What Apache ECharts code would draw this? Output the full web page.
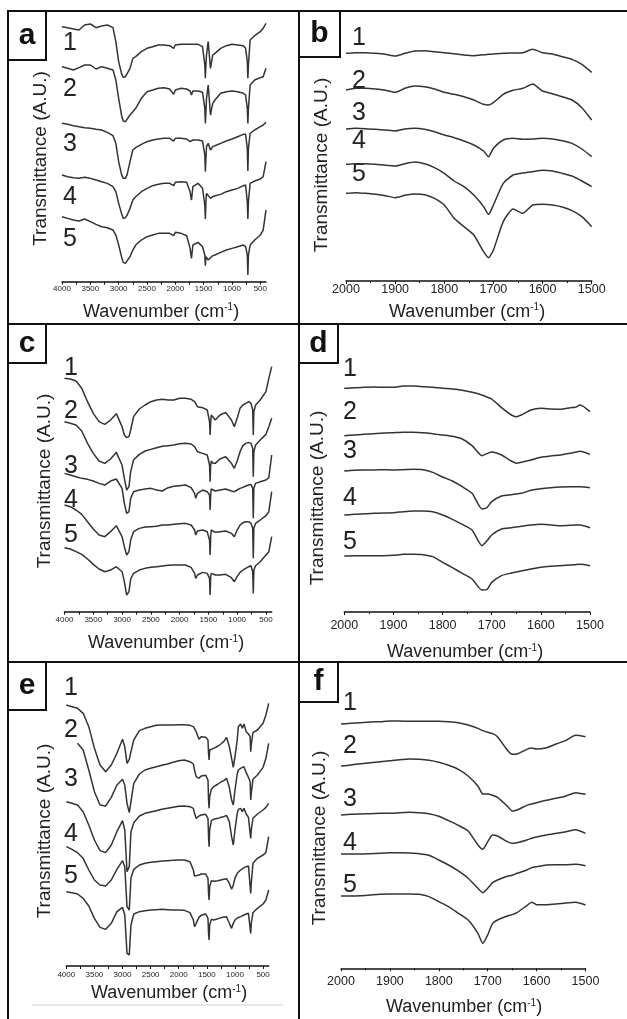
<!DOCTYPE html>
<html>
<head>
<meta charset="utf-8">
<script src="https://cdn.jsdelivr.net/npm/echarts@6/dist/echarts.min.js"></script>
<style>
  html, body { margin: 0; padding: 0; background: #fff; }
  #chart { width: 627px; height: 1019px; }
</style>
</head>
<body>
<div id="chart"></div>
<script>
// FTIR spectra, 6 panels x 5 samples. Values = transmittance (A.U., stacked offsets)

// ---- panel a : 4000-400 cm-1
var aWave = [4000,3900,3800,3700,3600,3500,3400,3300,3200,3100,3050,3000,2950,2920,2880,2850,2800,2750,2700,2600,2500,2400,2300,2200,2100,2030,2000,1900,1800,1740,1715,1690,1600,1520,1480,1470,1460,1450,1420,1380,1370,1340,1300,1200,1100,1000,900,800,760,730,720,710,680,600,500,450,400];
var a1 = [765,762,758,755,770,773,762,767,770,762,720,660,625,613,615,618,640,670,675,690,700,705,710,710,708,700,710,712,712,712,712,712,712,705,650,610,650,680,720,640,650,680,685,700,708,712,710,708,700,660,610,650,725,738,750,760,775];
var a2 = [645,640,635,642,650,650,638,645,640,635,605,550,500,482,480,485,500,510,520,550,570,575,580,582,578,562,575,580,578,572,560,572,572,568,520,475,510,550,590,500,510,535,545,565,570,572,570,565,560,520,475,520,590,605,612,615,640];
var a3 = [475,472,468,465,462,460,457,455,448,438,415,360,322,310,310,322,360,395,402,412,420,425,428,430,430,422,430,430,428,420,415,425,425,422,380,330,370,405,415,395,400,405,408,415,422,428,435,442,442,400,332,400,445,455,465,470,478];
var a4 = [320,315,312,310,313,310,305,300,295,285,270,235,205,190,192,200,220,245,255,270,280,288,292,295,295,288,298,300,298,270,245,285,295,280,230,188,240,265,270,250,255,255,258,262,270,275,280,288,290,240,188,240,295,302,308,315,360];
var a5 = [195,190,185,182,188,180,172,165,162,155,140,110,75,58,55,60,75,95,110,125,135,140,145,145,145,138,148,145,138,100,70,110,118,105,80,48,75,70,65,72,75,78,80,88,95,100,105,110,105,80,20,80,110,125,140,155,215];

// ---- panel b : 2000-1500 cm-1
var bWave = [2000,1980,1960,1940,1920,1900,1880,1860,1840,1820,1800,1780,1760,1740,1720,1710,1700,1680,1660,1640,1620,1600,1580,1560,1540,1520,1500];
var b1 = [683,685,685,683,680,675,683,690,691,688,685,682,678,676,679,680,681,683,684,685,695,685,681,673,665,650,626];
var b2 = [573,578,578,576,572,566,578,585,583,576,566,560,553,543,530,528,535,560,572,578,591,570,562,553,543,520,483];
var b3 = [456,458,457,455,453,450,456,458,455,448,438,430,420,408,390,373,398,423,428,425,426,428,426,421,413,396,373];
var b4 = [350,352,352,350,347,345,352,357,352,340,323,300,283,258,223,200,228,293,318,324,328,332,330,323,315,300,283];
var b5 = [263,265,263,260,256,250,257,261,259,248,228,188,163,138,88,70,93,178,216,203,228,230,228,222,211,193,163];

// ---- panel c : 4000-400 cm-1
var cWave = [4000,3900,3800,3700,3600,3500,3400,3300,3200,3100,3000,2960,2920,2880,2850,2800,2700,2600,2500,2400,2300,2200,2100,2000,1900,1800,1740,1720,1690,1600,1520,1480,1470,1460,1450,1420,1380,1300,1200,1100,1050,1000,950,900,850,800,760,730,720,710,680,600,500,450,400];
var c1 = [700,698,692,670,630,595,570,562,575,594,555,530,522,525,545,585,608,620,630,635,637,635,635,640,640,637,630,625,615,612,605,570,530,570,590,585,575,590,598,575,555,580,610,620,625,630,625,605,530,600,620,635,660,700,735];
var c2 = [570,565,560,542,505,475,452,445,458,478,440,400,365,375,420,455,472,482,487,492,496,498,500,504,505,503,495,490,480,475,470,440,390,440,452,445,445,458,465,445,430,452,480,498,505,508,505,490,405,480,500,515,532,555,580];
var c3 = [415,410,405,400,397,392,385,380,392,398,370,325,295,300,340,360,365,368,370,365,362,372,376,378,380,372,355,340,355,365,360,350,305,350,368,370,362,365,368,362,360,365,370,373,377,380,382,370,280,370,385,390,395,402,470];
var c4 = [320,315,305,292,270,248,230,225,240,258,225,195,170,180,215,240,250,254,255,256,260,260,262,264,265,260,245,230,242,245,240,215,170,225,245,242,238,240,242,235,225,245,260,267,270,270,265,250,160,250,265,275,288,300,360];
var c5 = [192,188,180,172,158,142,128,120,125,135,120,90,50,60,98,115,125,130,133,135,137,139,140,140,140,133,115,100,110,118,115,100,50,105,115,112,110,110,112,102,90,105,118,125,130,135,138,120,55,125,138,150,170,180,225];

// ---- panel d : 2000-1500 cm-1
var dWave = [2000,1980,1960,1940,1920,1900,1880,1860,1840,1820,1800,1780,1760,1740,1720,1710,1700,1680,1660,1650,1640,1620,1600,1580,1560,1540,1530,1520,1500];
var d1 = [671,673,674,675,674,674,678,678,676,674,671,669,665,659,651,645,639,613,591,586,591,606,611,609,608,613,614,621,601];
var d2 = [529,531,533,535,537,538,539,539,538,535,531,527,519,499,469,475,480,471,453,446,449,456,464,468,471,476,479,482,473];
var d3 = [423,425,426,426,427,426,427,428,427,419,405,393,376,356,309,313,331,348,352,354,356,365,370,373,375,376,376,376,373];
var d4 = [291,293,295,296,297,298,301,303,303,301,291,278,263,246,199,213,231,249,253,255,257,261,263,261,259,260,261,261,253];
var d5 = [168,169,169,169,169,170,173,173,172,166,149,133,116,99,66,67,89,109,117,120,123,129,134,137,139,141,142,143,139];

// ---- panel e : 4000-400 cm-1
var eWave = [4000,3900,3800,3700,3600,3500,3400,3300,3200,3100,3000,2960,2920,2880,2850,2800,2700,2600,2500,2400,2300,2200,2100,2000,1900,1800,1740,1720,1690,1640,1600,1520,1480,1470,1460,1450,1420,1380,1300,1250,1200,1150,1100,1060,1030,1000,960,940,900,870,840,800,760,730,720,710,680,600,500,450,400];
var e1 = [783,778,773,758,718,653,603,583,603,638,680,658,608,620,643,678,706,713,718,722,723,723,723,724,724,722,718,713,703,680,688,686,678,638,618,648,650,653,660,666,673,686,658,623,596,628,678,718,726,713,726,703,696,688,643,663,700,708,728,753,788];
var e2 = [null,null,668,648,588,523,483,480,506,543,560,543,488,460,493,548,576,588,593,598,602,606,611,616,618,613,606,588,568,563,570,572,558,498,473,508,530,538,546,552,556,563,536,498,483,528,576,588,593,588,598,580,566,553,498,518,560,573,596,623,668];
var e3 = [493,488,483,463,423,378,346,340,363,403,436,408,283,298,403,430,450,458,462,466,470,473,476,479,480,478,473,458,443,450,453,455,443,388,358,408,436,440,443,446,448,452,433,388,363,408,458,470,473,463,473,456,446,440,383,408,443,456,468,476,488];
var e4 = [358,350,340,323,288,258,243,240,258,290,316,298,178,168,263,290,303,308,311,313,315,316,317,318,318,313,288,270,268,273,276,276,263,218,198,238,256,254,256,258,260,262,248,230,243,263,278,283,288,291,295,298,300,298,218,248,308,323,333,340,388];
var e5 = [223,220,216,203,180,143,116,110,128,163,176,153,38,33,123,156,163,166,168,169,170,169,168,168,167,160,138,118,128,146,152,156,143,98,78,123,140,138,142,145,147,148,128,113,128,138,144,146,148,150,153,156,158,153,98,128,160,173,186,198,228];

// ---- panel f : 2000-1500 cm-1
var fWave = [2000,1980,1960,1940,1920,1900,1880,1860,1840,1820,1800,1780,1760,1740,1720,1710,1700,1690,1680,1660,1650,1640,1620,1610,1600,1580,1560,1540,1520,1500];
var f1 = [733,735,737,739,740,742,742,741,741,741,741,740,737,730,720,713,708,704,695,655,642,643,657,661,658,662,673,684,699,695];
var f2 = [607,610,614,617,620,623,626,628,627,624,618,609,597,577,547,523,523,519,513,487,472,475,489,493,497,504,510,517,527,522];
var f3 = [460,462,463,464,465,465,467,468,467,464,456,443,429,412,370,357,380,400,397,380,375,377,385,390,394,400,405,410,416,405];
var f4 = [343,343,343,344,345,347,347,346,344,339,325,310,292,270,240,227,240,257,265,276,279,285,295,302,305,310,311,311,312,308];
var f5 = [217,217,218,220,222,223,223,223,222,215,200,185,165,145,105,75,100,135,145,157,161,167,188,198,191,191,193,196,198,190];

var wideTicks = [500,1000,1500,2000,2500,3000,3500,4000];
var wideMinor = [500,750,1000,1250,1500,1750,2000,2250,2500,2750,3000,3250,3500,3750,4000];
var curveLabels = ['1','2','3','4','5'];

var FONT = 'Liberation Sans, Arial, Helvetica, sans-serif';
var INK = '#333';

// layout of the six panels
var panels = [
  {wave: aWave, curves: [a1,a2,a3,a4,a5], wide: true,  grid: {left: 62,    top: 15,  width: 204,   height: 266.7}, yMax: 800, margin: 3,
   letter: 'a', box: [8,11,38,49],   yName: [40.5,158.5], xName: [161,311.7], nums: [63,[43.5,89,144,197,239]]},
  {wave: bWave, curves: [b1,b2,b3,b4,b5], wide: false, grid: {left: 346,   top: 5,   width: 245.7, height: 276},   yMax: 828, margin: 2,
   letter: 'b', box: [299,11,41,46], yName: [322,165],   xName: [467,311.7], nums: [352,[38,81,113,141,174]]},
  {wave: cWave, curves: [c1,c2,c3,c4,c5], wide: true,  grid: {left: 64.5,  top: 355, width: 207.2, height: 256.7}, yMax: 770, margin: 4,
   letter: 'c', box: [8,324,38,39],  yName: [45,481],    xName: [166,643],   nums: [64,[368,411,466,500,535]]},
  {wave: dWave, curves: [d1,d2,d3,d4,d5], wide: false, grid: {left: 344.3, top: 355, width: 245.7, height: 257},   yMax: 771, margin: 7,
   letter: 'd', box: [299,324,39,39], yName: [318,498],  xName: [465,652],   nums: [343,[369,412,451,498,542]]},
  {wave: eWave, curves: [e1,e2,e3,e4,e5], wide: true,  grid: {left: 66.3,  top: 690, width: 202.4, height: 276},   yMax: 828, margin: 5,
   letter: 'e', box: [8,662,38,48],  yName: [45,831],    xName: [169,993],   nums: [64,[688,730,779,834,876]]},
  {wave: fWave, curves: [f1,f2,f3,f4,f5], wide: false, grid: {left: 341,   top: 700, width: 244.5, height: 268.3}, yMax: 805, margin: 7,
   letter: 'f', box: [299,662,39,40], yName: [320,838],  xName: [464,1007],  nums: [343,[703,746,799,843,885]]}
];

var grids = [], xAxes = [], yAxes = [], series = [], graphics = [];

panels.forEach(function (p, i) {
  grids.push(p.grid);

  var xa = {
    gridIndex: i,
    type: 'value',
    inverse: true,
    min: p.wide ? 400 : 1500,
    max: p.wide ? 4000 : 2000,
    splitLine: {show: false},
    axisLine: {show: true, onZero: false, lineStyle: {color: '#111', width: 1.5}},
    axisTick: {show: true, length: 3, lineStyle: {color: '#111', width: 1}},
    axisLabel: {
      color: '#222',
      fontFamily: FONT,
      fontSize: p.wide ? 8 : 12.5,
      margin: p.margin,
      showMinLabel: true,
      showMaxLabel: true,
      formatter: function (v) { return String(v); }
    }
  };
  if (p.wide) {
    xa.axisLabel.customValues = wideTicks;
    xa.axisTick.customValues = wideMinor;
  } else {
    xa.interval = 100;
    xa.minorTick = {show: true, splitNumber: 2, length: 2, lineStyle: {color: '#111'}};
  }
  xAxes.push(xa);

  yAxes.push({gridIndex: i, type: 'value', min: 0, max: p.yMax, show: false});

  p.curves.forEach(function (c) {
    series.push({
      type: 'line',
      xAxisIndex: i,
      yAxisIndex: i,
      data: p.wave.map(function (w, k) { return [w, c[k] == null ? '-' : c[k]]; }),
      symbol: 'none',
      smooth: p.wide ? false : 0.2,
      connectNulls: false,
      silent: true,
      lineStyle: {color: INK, width: 1.5}
    });
  });

  // panel letter box
  graphics.push({
    type: 'rect',
    shape: {x: p.box[0], y: p.box[1], width: p.box[2], height: p.box[3]},
    style: {fill: 'none', stroke: '#111', lineWidth: 2}
  });
  graphics.push({
    type: 'text',
    x: p.box[0] + p.box[2] / 2,
    y: p.box[1] + p.box[3] / 2,
    style: {text: p.letter, font: 'bold 30px ' + FONT, fill: '#111', align: 'center', verticalAlign: 'middle'}
  });

  // axis names
  graphics.push({
    type: 'text',
    x: p.yName[0],
    y: p.yName[1],
    rotation: Math.PI / 2,
    style: {text: 'Transmittance (A.U.)', font: '19px ' + FONT, fill: '#222', align: 'center', verticalAlign: 'middle'}
  });
  graphics.push({
    type: 'text',
    x: p.xName[0],
    y: p.xName[1],
    style: {
      text: '{n|Wavenumber (cm}{s|-1}{n|)}',
      align: 'center',
      verticalAlign: 'middle',
      rich: {
        n: {font: '18px ' + FONT, fill: '#222'},
        s: {font: '10px ' + FONT, fill: '#222', verticalAlign: 'top'}
      }
    }
  });

  // curve numbers
  p.nums[1].forEach(function (y, k) {
    graphics.push({
      type: 'text',
      x: p.nums[0],
      y: y,
      style: {text: curveLabels[k], font: '25px ' + FONT, fill: '#222', align: 'left', verticalAlign: 'middle'}
    });
  });
});

// frame lines between panels
var frame = [[8,11,627,11],[8,324,627,324],[8,662,627,662],[8,11,8,1019],[299,11,299,1019]];
frame.forEach(function (l) {
  graphics.push({
    type: 'line',
    shape: {x1: l[0], y1: l[1], x2: l[2], y2: l[3]},
    style: {stroke: '#111', lineWidth: 2}
  });
});
graphics.push({
  type: 'line',
  shape: {x1: 32, y1: 1005, x2: 283, y2: 1005},
  style: {stroke: '#d0d0d0', lineWidth: 1}
});

var myChart = echarts.init(document.getElementById('chart'));
var option = {
  animation: false,
  backgroundColor: '#fff',
  textStyle: {fontFamily: FONT},
  grid: grids,
  xAxis: xAxes,
  yAxis: yAxes,
  series: series,
  graphic: {elements: graphics}
};
myChart.setOption(option);
</script>
</body>
</html>
